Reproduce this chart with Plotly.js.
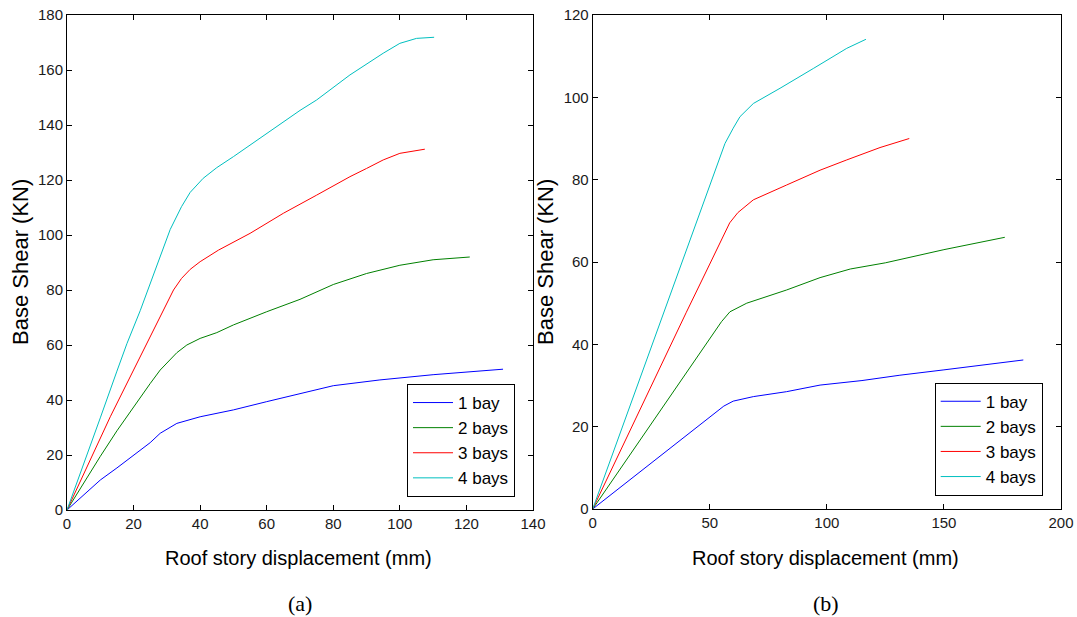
<!DOCTYPE html>
<html>
<head>
<meta charset="utf-8">
<script src="https://cdn.plot.ly/plotly-3.0.1.min.js"></script>
<style>html,body{margin:0;padding:0;background:#fff;}#chart{width:1077px;height:617px;}</style>
</head>
<body>
<div id="chart"></div>
<script>
// ---------- Data: panel (a) ----------
const seriesNames = ["1 bay", "2 bays", "3 bays", "4 bays"];
const seriesColors = ["#0000ff", "#008000", "#ff0000", "#00bfbf"];

const a1x = [0, 5, 10, 15, 20, 25, 28, 33, 40, 50, 60, 70, 80, 94, 110, 131];
const a1y = [0, 5.5, 10.9, 15.3, 20, 24.5, 27.9, 31.5, 33.9, 36.4, 39.4, 42.4, 45.2, 47.3, 49.2, 51.2];
const a2x = [0, 5, 10, 15, 20, 25, 28, 33, 36, 40, 45, 50, 60, 70, 80, 90, 100, 110, 121];
const a2y = [0, 10, 19.5, 28.8, 37.6, 46, 50.9, 57.2, 60, 62.4, 64.5, 67.3, 72.1, 76.6, 82, 86, 89, 91, 92];
const a3x = [0, 6, 13, 20, 23, 28, 32, 34.4, 37, 40, 45.5, 55, 65, 75, 85, 90, 95, 100, 107.5];
const a3y = [0, 15.7, 33.9, 50.9, 58.2, 70.3, 80, 84.2, 87.5, 90.3, 94.5, 100.6, 107.9, 114.5, 121.2, 124.2, 127.3, 129.7, 131.2];
const a4x = [0, 5, 10, 15, 18, 22, 25, 28.6, 31, 34.4, 37, 40.9, 45, 50, 55, 60, 65, 70, 75, 85, 95, 100, 105, 110.3];
const a4y = [0, 16.5, 33.5, 50.5, 60.5, 72.5, 82.5, 94.5, 102, 110.3, 115.5, 120.6, 124.5, 128.5, 132.7, 137.2, 141.3, 145.3, 149.1, 158.2, 166.1, 169.7, 171.5, 171.9];

// ---------- Data: panel (b) ----------
const b1x = [0, 20, 40, 52, 56, 60, 68.6, 82.8, 97.1, 115, 131.2, 150, 170, 183.9];
const b1y = [0, 8.9, 17.8, 23.2, 25, 26.2, 27.3, 28.5, 30.1, 31.2, 32.5, 33.8, 35.3, 36.2];
const b2x = [0, 20, 40, 48.7, 52, 55, 58.6, 65.8, 82.8, 97.1, 110, 125, 150, 176];
const b2y = [0, 16.5, 33, 40, 43, 45.5, 47.9, 50.0, 53.2, 56.2, 58.3, 59.8, 63, 66];
const b3x = [0, 10, 20, 30, 40, 50, 55, 58.5, 62, 68.6, 82.8, 97.1, 108.5, 122.7, 135.2];
const b3y = [0, 12, 24, 36, 47.8, 59.5, 65.5, 69.5, 72, 75.1, 78.7, 82.3, 84.8, 87.8, 90.0];
const b4x = [0, 10, 20, 30, 40, 48.7, 54, 56.5, 60, 62.9, 68.6, 75, 80, 94.2, 108.5, 116.7];
const b4y = [0, 15.8, 31.5, 47.3, 63, 76.7, 85, 88.8, 92.5, 95.3, 98.5, 100.5, 102.2, 107, 111.9, 114.1];

const xTitle = "Roof story displacement (mm)";
const yTitle = "Base Shear (KN)";
const captions = ["(a)", "(b)"];

const aX = [a1x, a2x, a3x, a4x], aY = [a1y, a2y, a3y, a4y];
const bX = [b1x, b2x, b3x, b4x], bY = [b1y, b2y, b3y, b4y];

const traces = [];
for (let i = 0; i < 4; i++) {
  traces.push({x: aX[i], y: aY[i], type: "scatter", mode: "lines", name: seriesNames[i],
    line: {color: seriesColors[i], width: 1}, xaxis: "x", yaxis: "y", legend: "legend"});
}
for (let i = 0; i < 4; i++) {
  traces.push({x: bX[i], y: bY[i], type: "scatter", mode: "lines", name: seriesNames[i],
    line: {color: seriesColors[i], width: 1}, xaxis: "x2", yaxis: "y2", legend: "legend2"});
}

const W = 1077, H = 617;
const tickFont = {family: "Liberation Sans, Arial", size: 15, color: "#1a1a1a"};
function ax(extra) {
  return Object.assign({
    showline: true, linecolor: "#000", linewidth: 1, mirror: "ticks",
    ticks: "inside", ticklen: 5, tickcolor: "#000", tickwidth: 1,
    showgrid: false, zeroline: false, tickfont: tickFont, fixedrange: true
  }, extra);
}

const legendCommon = {
  bgcolor: "#fff", bordercolor: "#000", borderwidth: 1,
  font: {family: "Liberation Sans, Arial", size: 17, color: "#000"},
  xanchor: "right", yanchor: "top", itemwidth: 40, tracegroupgap: 0
};

const layout = {
  width: W, height: H,
  margin: {l: 0, r: 0, t: 0, b: 0},
  paper_bgcolor: "#fff", plot_bgcolor: "#fff",
  showlegend: true,
  xaxis: ax({domain: [67 / W, 533 / W], range: [0, 140], dtick: 20, tick0: 0, anchor: "y"}),
  yaxis: ax({domain: [(H - 510) / H, (H - 15) / H], range: [0, 180], dtick: 20, tick0: 0, anchor: "x"}),
  xaxis2: ax({domain: [592.7 / W, 1061 / W], range: [0, 200], dtick: 50, tick0: 0, anchor: "y2"}),
  yaxis2: ax({domain: [(H - 509) / H, (H - 15) / H], range: [0, 120], dtick: 20, tick0: 0, anchor: "x2"}),
  legend: Object.assign({}, legendCommon, {x: 515 / W, y: (H - 384) / H}),
  legend2: Object.assign({}, legendCommon, {x: 1042.7 / W, y: (H - 382.7) / H}),
  annotations: [
    {text: yTitle, xref: "paper", yref: "paper", x: 20 / W, y: (H - 262) / H, textangle: -90,
     showarrow: false, xanchor: "center", yanchor: "middle",
     font: {family: "Liberation Sans, Arial", size: 22, color: "#000"}},
    {text: yTitle, xref: "paper", yref: "paper", x: 545 / W, y: (H - 262) / H, textangle: -90,
     showarrow: false, xanchor: "center", yanchor: "middle",
     font: {family: "Liberation Sans, Arial", size: 22, color: "#000"}},
    {text: xTitle, xref: "paper", yref: "paper", x: 298 / W, y: (H - 558) / H,
     showarrow: false, xanchor: "center", yanchor: "middle",
     font: {family: "Liberation Sans, Arial", size: 20, color: "#000"}},
    {text: xTitle, xref: "paper", yref: "paper", x: 825 / W, y: (H - 558) / H,
     showarrow: false, xanchor: "center", yanchor: "middle",
     font: {family: "Liberation Sans, Arial", size: 20, color: "#000"}},
    {text: captions[0], xref: "paper", yref: "paper", x: 300 / W, y: (H - 603) / H,
     showarrow: false, xanchor: "center", yanchor: "middle",
     font: {family: "Liberation Serif, Times New Roman", size: 22, color: "#000"}},
    {text: captions[1], xref: "paper", yref: "paper", x: 826 / W, y: (H - 603) / H,
     showarrow: false, xanchor: "center", yanchor: "middle",
     font: {family: "Liberation Serif, Times New Roman", size: 22, color: "#000"}}
  ]
};

Plotly.newPlot("chart", traces, layout, {displayModeBar: false, staticPlot: true});
</script>
</body>
</html>
